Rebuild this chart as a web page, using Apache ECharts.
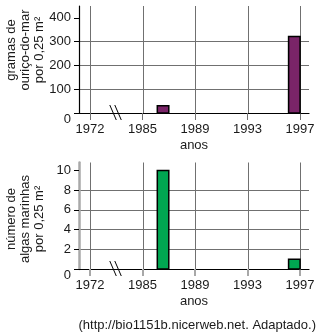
<!DOCTYPE html>
<html>
<head>
<meta charset="utf-8">
<script src="https://cdn.jsdelivr.net/npm/echarts@6/dist/echarts.min.js"></script>
<style>
  html, body { margin: 0; padding: 0; background: #fff; }
  #chart { width: 322px; height: 334px; }
</style>
</head>
<body>
<div id="chart"></div>
<script>
// Years shown on the (broken) time axis
const tickYears = [1972, 1985, 1989, 1993, 1997];
const tickLabels = ['1972', '1985', '1989', '1993', '1997'];

// Sampling years and measurements
const sampleYears = [1987, 1997];
const urchinGrams = [30, 322];   // gramas de ouriço-do-mar por 0,25 m²
const algaeCount = [10, 1];      // número de algas marinhas por 0,25 m²

const urchinTicks = [0, 100, 200, 300, 400];
const algaeTicks = [0, 2, 4, 6, 8, 10];

const TEXT = '#1a1a1a';
const GRID_GREY = '#707070';
const FONT = 'Liberation Sans, Arial, sans-serif';

// Position of a year on the broken axis: tick years sit at 0,1,2,...
function yearPos(year) {
  for (let i = 0; i < tickYears.length - 1; i++) {
    const a = tickYears[i], b = tickYears[i + 1];
    if (year >= a && year <= b) return i + (year - a) / (b - a);
  }
  return tickYears.length - 1;
}
const tickPos = tickYears.map(yearPos);

const BAR_W = 11.5;
function barRenderer(color) {
  return function (params, api) {
    const top = api.coord([api.value(0), api.value(1)]);
    const base = api.coord([api.value(0), 0]);
    return {
      type: 'rect',
      shape: { x: top[0] - BAR_W, y: top[1], width: BAR_W, height: base[1] - top[1] },
      style: { fill: color, stroke: '#000', lineWidth: 1.5 }
    };
  };
}

// Full-height vertical rule at each year tick
function yearRule(params, api) {
  const cs = params.coordSys;
  const x = Math.round(api.coord([api.value(0), 0])[0]) + 0.5;
  return {
    type: 'line',
    shape: { x1: x, y1: cs.y, x2: x, y2: cs.y + cs.height },
    style: { stroke: GRID_GREY, lineWidth: 1 }
  };
}

function xAxisFor(gridIndex, tickStyle) {
  return {
    type: 'value', gridIndex: gridIndex,
    min: -0.21, max: 4.17,
    name: 'anos', nameLocation: 'middle', nameGap: 26,
    nameTextStyle: { color: TEXT, fontSize: 13, fontFamily: FONT },
    axisLine: { show: true, onZero: false, lineStyle: { color: '#000', width: 1.2 } },
    axisTick: { show: true, customValues: tickPos, length: 7, lineStyle: tickStyle },
    axisLabel: {
      customValues: tickPos, margin: 10, color: TEXT, fontSize: 13, fontFamily: FONT,
      formatter: function (v) { return tickLabels[tickPos.indexOf(v)]; }
    },
    splitLine: { show: false }
  };
}

function yAxisFor(gridIndex, max, interval, ticks, lineStyle) {
  return {
    type: 'value', gridIndex: gridIndex,
    min: 0, max: max, interval: interval,
    axisLine: { show: true, onZero: false, lineStyle: lineStyle },
    axisTick: { show: true, customValues: ticks, length: 5, lineStyle: { color: '#000', width: 1 } },
    axisLabel: {
      customValues: ticks, margin: 8, color: TEXT, fontSize: 13, fontFamily: FONT,
      verticalAlignMinLabel: 'top'
    },
    splitLine: { show: true, showMinLine: false, showMaxLine: false, lineStyle: { color: GRID_GREY, width: 1 } }
  };
}

function verticalGrid(xi, yi) {
  return {
    type: 'custom', xAxisIndex: xi, yAxisIndex: yi, z: 1, silent: true,
    renderItem: yearRule,
    data: tickPos.map(function (p) { return [p, 0]; })
  };
}

const chart = echarts.init(document.getElementById('chart'), null, { renderer: 'canvas' });

const option = {
  animation: false,
  backgroundColor: '#fff',
  grid: [
    { left: 79, right: 13, top: 6, bottom: 221, outerBoundsMode: 'none', containLabel: false },
    { left: 79, right: 13, top: 162.5, bottom: 65, outerBoundsMode: 'none', containLabel: false }
  ],
  xAxis: [
    xAxisFor(0, { color: GRID_GREY, width: 1 }),
    xAxisFor(1, { color: '#a8a8a8', width: 2 })
  ],
  yAxis: [
    yAxisFor(0, 450, 100, urchinTicks, { color: '#000', width: 1.2 }),
    yAxisFor(1, 10.8, 2, algaeTicks, { color: '#a8a8a8', width: 2.5 })
  ],
  series: [
    verticalGrid(0, 0),
    verticalGrid(1, 1),
    {
      type: 'custom', xAxisIndex: 0, yAxisIndex: 0, z: 3,
      renderItem: barRenderer('#7a2468'),
      data: sampleYears.map(function (y, i) { return [yearPos(y), urchinGrams[i]]; })
    },
    {
      type: 'custom', xAxisIndex: 1, yAxisIndex: 1, z: 3,
      renderItem: barRenderer('#00a651'),
      data: sampleYears.map(function (y, i) { return [yearPos(y), algaeCount[i]]; })
    }
  ]
};
chart.setOption(option);

// Axis break marks, y-axis titles and source note
function breakMarks(gridIdx) {
  const c = chart.convertToPixel({ gridIndex: gridIdx }, [0.5, 0]);
  const style = { stroke: '#000', lineWidth: 1 };
  return [
    { type: 'line', z: 10, shape: { x1: c[0] - 6.5, y1: c[1] - 8, x2: c[0], y2: c[1] + 7 }, style: style },
    { type: 'line', z: 10, shape: { x1: c[0] - 1.5, y1: c[1] - 8, x2: c[0] + 5, y2: c[1] + 7 }, style: style }
  ];
}

function axisTitle(text, x, y) {
  return {
    type: 'text', x: x, y: y, rotation: Math.PI / 2, z: 10,
    style: {
      text: text, fill: TEXT, font: '13px ' + FONT,
      align: 'center', verticalAlign: 'middle', lineHeight: 14
    }
  };
}

chart.setOption({
  graphic: [].concat(
    breakMarks(0),
    breakMarks(1),
    [
      axisTitle('gramas de\nouriço-do-mar\npor 0,25 m²', 25, 50),
      axisTitle('número de\nalgas marinhas\npor 0,25 m²', 25, 219),
      {
        type: 'text', x: 316, y: 325, z: 10,
        style: {
          text: '(http://bio1151b.nicerweb.net. Adaptado.)', fill: TEXT,
          font: '13px ' + FONT, align: 'right', verticalAlign: 'middle'
        }
      }
    ]
  )
});
</script>
</body>
</html>
